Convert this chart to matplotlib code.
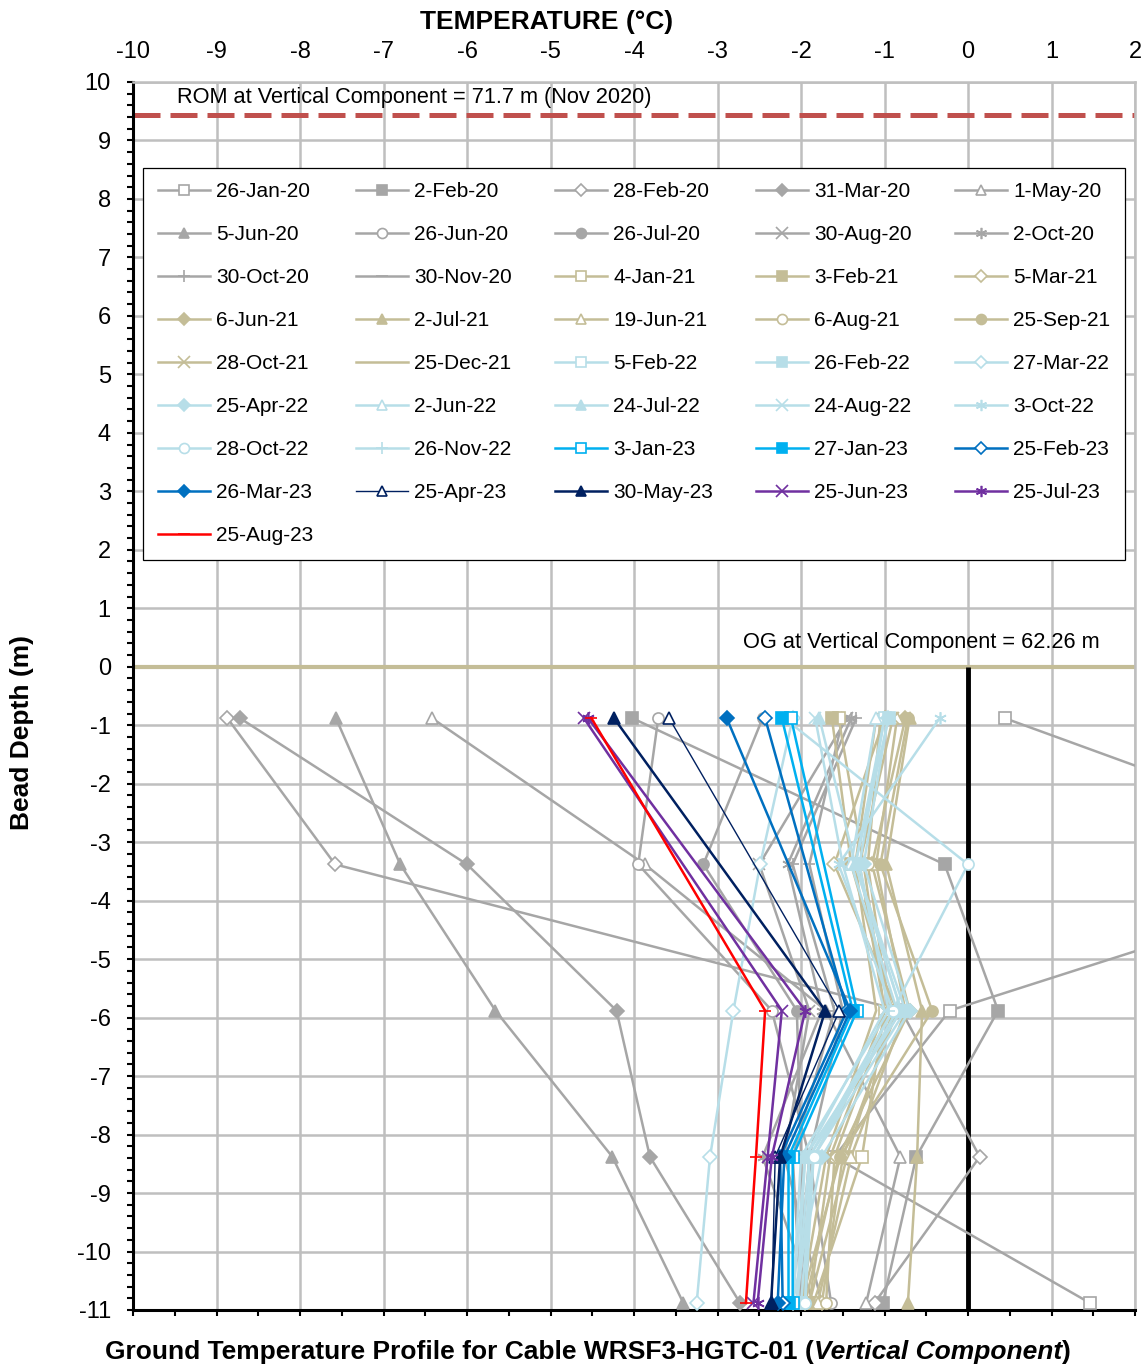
import matplotlib
matplotlib.use("Agg")
import matplotlib.pyplot as plt
from matplotlib.ticker import MultipleLocator

plt.rcParams['font.family'] = ['Liberation Sans', 'DejaVu Sans']
plt.rcParams['axes.unicode_minus'] = False

# bead depths (m)
depth = [-0.88, -3.38, -5.88, -8.38, -10.88]

# None = no reading at that bead (line joins across the gap, as in the original)
labels_2020 = ['26-Jan-20', '2-Feb-20', '28-Feb-20', '31-Mar-20', '1-May-20', '5-Jun-20',
               '26-Jun-20', '26-Jul-20', '30-Aug-20', '2-Oct-20', '30-Oct-20', '30-Nov-20']
temps_2020 = [
    [0.44, 5.25, -0.22, -1.6, 1.46],
    [-4.02, -0.28, 0.36, -0.62, -1.02],
    [-8.87, -7.58, -0.8, 0.14, -1.12],
    [-8.72, -6.0, -4.21, -3.81, -2.73],
    [-6.42, -3.87, -1.7, -0.81, -1.22],
    [-7.57, -6.8, -5.66, -4.26, -3.41],
    [-3.71, -3.95, -2.35, -1.9, -1.64],
    [-2.46, -3.17, -2.05, -2.0, -1.95],
    [-1.45, -2.5, -1.9, -2.2, -1.75],
    [-1.4, -2.16, -1.75, -2.46, -1.85],
    [-1.34, -2.1, -1.6, -2.1, -2.0],
    [-1.5, -1.9, -1.5, -1.9, -2.05],
]

labels_2021 = ['4-Jan-21', '3-Feb-21', '5-Mar-21', '6-Jun-21', '2-Jul-21',
               '19-Jun-21', '6-Aug-21', '25-Sep-21', '28-Oct-21', '25-Dec-21']
temps_2021 = [
    [-1.55, -1.25, -1.0, -1.27, -1.85],
    [-1.63, -1.4, -0.9, -1.45, -1.9],
    [-1.0, -1.6, -0.85, -1.5, -1.75],
    [-0.75, -1.15, -0.7, -1.55, -1.95],
    [-0.7, -0.98, -0.55, -0.61, -0.72],
    [-0.85, -1.1, -0.75, -1.4, -1.8],
    [-1.05, -1.2, -0.95, -1.6, -1.7],
    [-0.72, -1.05, -0.43, -1.53, -2.0],
    [-0.9, -1.3, -1.0, -1.65, -1.9],
    [-1.1, -1.35, -1.1, -1.7, -2.0],
]

labels_2022 = ['5-Feb-22', '26-Feb-22', '27-Mar-22', '25-Apr-22', '2-Jun-22',
               '24-Jul-22', '24-Aug-22', '3-Oct-22', '28-Oct-22', '26-Nov-22']
temps_2022 = [
    [-1.0, -1.35, -0.8, -1.9, -2.05],
    [-0.95, -1.35, -0.75, -1.85, -2.0],
    [-2.1, -2.49, -2.81, -3.09, -3.25],
    [-0.96, -1.25, -0.7, -1.75, -2.1],
    [-1.1, -1.4, -0.85, -1.85, -2.05],
    [-1.78, -1.35, -0.8, -1.95, -2.1],
    [-1.83, -1.5, -1.0, -1.95, -2.05],
    [-0.34, -1.55, -0.9, -1.9, -1.95],
    [-2.2, 0.0, -0.9, -1.85, -1.95],
    [-1.0, -1.3, -0.95, -2.0, -2.1],
]

labels_2023 = ['3-Jan-23', '27-Jan-23', '25-Feb-23', '26-Mar-23', '25-Apr-23',
               '30-May-23', '25-Jun-23', '25-Jul-23', '25-Aug-23']
temps_2023 = [
    [-2.12, None, -1.33, -2.1, -2.1],
    [-2.23, None, -1.38, -2.15, -2.15],
    [-2.43, None, -1.45, -2.25, -2.22],
    [-2.89, None, -1.41, -2.2, -2.28],
    [-3.58, None, -1.54, -2.31, -2.35],
    [-4.24, None, -1.71, -2.25, -2.36],
    [-4.6, None, -2.23, -2.4, -2.57],
    [-4.55, None, -1.95, -2.35, -2.52],
    [-4.51, None, -2.43, -2.54, -2.66],
]

# styles
AST = (6, 2, 0)
GRAY, TAN, LBLUE = '#A6A6A6', '#C4BD97', '#B7DEE8'
CYAN, BLUE, NAVY, PURPLE, RED = '#00B0F0', '#0070C0', '#002060', '#7030A0', '#FF0000'

mk_2020 = [('s', 0), ('s', 1), ('D', 0), ('D', 1), ('^', 0), ('^', 1),
           ('o', 0), ('o', 1), ('x', 1), (AST, 1), ('+', 1), ('_', 1)]
mk_2021 = [('s', 0), ('s', 1), ('D', 0), ('D', 1), ('^', 1),
           ('^', 0), ('o', 0), ('o', 1), ('x', 1), (None, 1)]
mk_2022 = [('s', 0), ('s', 1), ('D', 0), ('D', 1), ('^', 0),
           ('^', 1), ('x', 1), (AST, 1), ('o', 0), ('+', 1)]
mk_2023 = [('s', 0), ('s', 1), ('D', 0), ('D', 1), ('^', 0),
           ('^', 1), ('x', 1), (AST, 1), ('_', 1)]
col_2023 = [CYAN, CYAN, BLUE, BLUE, NAVY, NAVY, PURPLE, PURPLE, RED]

W, H = 1148, 1368
fig = plt.figure(figsize=(W / 100, H / 100), dpi=100)
ax = fig.add_axes([0.1159, 0.0424, 0.8728, 0.8977])

handles = []


def draw(label, temps, color, marker, filled, lw=1.8):
    ms = 7 if marker == 'D' else 8
    if marker in ('x', '+', AST, '_'):
        ms = 9
    pts = [(t, d) for t, d in zip(temps, depth) if t is not None]
    xs = [p[0] for p in pts]
    ys = [p[1] for p in pts]
    line, = ax.plot(xs, ys, color=color, lw=lw, marker=marker, ms=ms,
                    mfc=color if filled else 'white', mec=color, mew=1.2,
                    label=label, zorder=3)
    handles.append(line)


for lab, t, (m, f) in zip(labels_2020, temps_2020, mk_2020):
    draw(lab, t, GRAY, m, f)
for lab, t, (m, f) in zip(labels_2021, temps_2021, mk_2021):
    draw(lab, t, TAN, m, f)
for lab, t, (m, f) in zip(labels_2022, temps_2022, mk_2022):
    draw(lab, t, LBLUE, m, f)
for lab, t, (m, f), c in zip(labels_2023, temps_2023, mk_2023, col_2023):
    draw(lab, t, c, m, f, lw=1.0 if lab == '25-Apr-23' else 1.8)

# reference lines
ax.axhline(9.44, color='#C0504D', lw=3.6, ls=(0, (5.4, 2.0)), zorder=2)
ax.axhline(0, color=TAN, lw=3, zorder=2)
ax.vlines(0, -11, 0, color='black', lw=3.5, zorder=2)

ax.text(-9.47, 9.73, 'ROM at Vertical Component = 71.7 m (Nov 2020)',
        fontsize=15.7, va='center', ha='left')
ax.text(1.58, 0.41, 'OG at Vertical Component = 62.26 m',
        fontsize=15.7, va='center', ha='right')

# axes
ax.set_xlim(-10, 2)
ax.set_ylim(-11, 10)
ax.xaxis.set_major_locator(MultipleLocator(1))
ax.xaxis.set_minor_locator(MultipleLocator(0.5))
ax.yaxis.set_major_locator(MultipleLocator(1))
ax.yaxis.set_minor_locator(MultipleLocator(0.2))
ax.tick_params(axis='x', which='both', top=False, bottom=True, labeltop=True,
               labelbottom=False, direction='out', length=4, width=1.5,
               labelsize=17, pad=9.5)
ax.tick_params(axis='y', which='both', left=True, direction='out', length=4,
               width=1.5, labelsize=17, pad=12)
ax.grid(True, which='major', color='#BFBFBF', lw=1.8, zorder=0)
ax.set_axisbelow(True)
for s in ('left', 'bottom'):
    ax.spines[s].set_color('black')
    ax.spines[s].set_linewidth(2.2)
for s in ('top', 'right'):
    ax.spines[s].set_color('#BFBFBF')
    ax.spines[s].set_linewidth(1.8)

# legend, filled row by row like the original
order = [i for c in range(5) for i in range(c, len(handles), 5)]
leg = ax.legend([handles[i] for i in order], [handles[i].get_label() for i in order],
                ncol=5, loc='upper left', bbox_to_anchor=(0.01, 0.614, 0.98, 0.316),
                mode='expand', borderaxespad=0, fontsize=15, handlelength=2.5,
                handletextpad=0.3, labelspacing=1.15, markerscale=0.9,
                fancybox=False, edgecolor='black', framealpha=1, borderpad=0.7)
leg.get_frame().set_linewidth(0.9)
leg.set_zorder(5)

fig.text(547 / W, 1 - 22 / H, 'TEMPERATURE (°C)', fontsize=19, fontweight='bold',
         ha='center', va='center')
fig.text(22 / W, 1 - 732 / H, 'Bead Depth (m)', fontsize=19, fontweight='bold',
         rotation=90, ha='center', va='center')

# bottom title with the italic part, centred as a whole
parts = [('Ground Temperature Profile for Cable WRSF3-HGTC-01 (', 'normal'),
         ('Vertical Component', 'italic'), (')', 'normal')]
fig.canvas.draw()
r = fig.canvas.get_renderer()
texts = [fig.text(0, 1 - 1352 / H, s, fontsize=19, fontweight='bold', style=st,
                  ha='left', va='center') for s, st in parts]
widths = [t.get_window_extent(r).width for t in texts]
x = 588 - sum(widths) / 2
for t, w in zip(texts, widths):
    t.set_x(x / W)
    x += w

fig.savefig('out.png', dpi=100)
